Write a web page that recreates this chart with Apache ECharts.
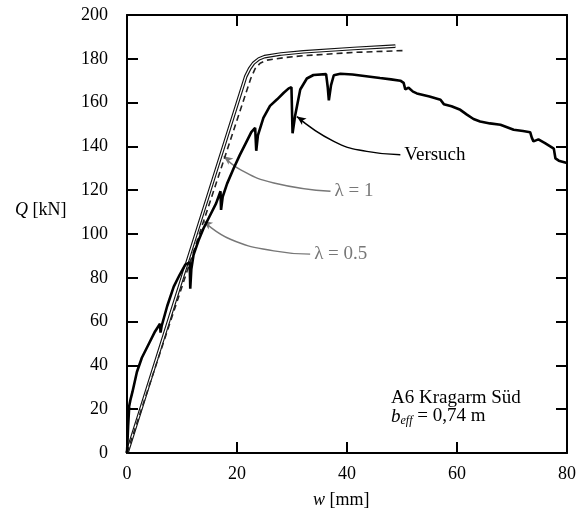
<!DOCTYPE html>
<html>
<head>
<meta charset="utf-8">
<script src="https://cdn.jsdelivr.net/npm/echarts@6/dist/echarts.min.js"></script>
<style>
  html, body { margin: 0; padding: 0; background: #fff; }
  #chart { width: 585px; height: 513px; }
</style>
</head>
<body>
<div id="chart"></div>
<script>
// Versuch (Messkurve)
const versuchW = [0, 0.2, 0.4, 0.2, 0.6, 1.0, 1.8, 2.7, 4.0, 5.1, 6.0, 6.1, 6.3, 7.3, 8.5, 9.6, 10.6, 11.4, 11.5, 11.7,
  12.1, 13.0, 13.9, 15.0, 16.2, 17.0, 17.1, 17.4, 18.2, 19.4, 20.5, 21.6, 22.6, 23.3, 23.5, 23.8, 24.8, 26.0, 27.3, 28.5,
  29.4, 29.9, 30.1, 30.6, 31.5, 32.7, 33.9, 36.2, 36.5, 36.7, 37.1, 37.6, 38.8, 41.0, 44.2, 46.0, 48.0, 49.7, 50.3, 50.6,
  51.2, 52.0, 52.7, 55.0, 57.0, 57.6, 59.0, 60.6, 61.8, 63.0, 64.2, 66.0, 67.9, 70.3, 72.0, 73.3, 73.6, 73.9, 74.8, 76.0,
  77.6, 77.9, 78.5, 80.0]
const versuchQ = [0, 12, 21, 19, 24, 28, 37, 43.5, 50, 55.5, 59, 55, 58, 67, 76, 81.5, 86, 87, 75, 84,
  90.5, 97, 102.5, 108, 114, 119.5, 111, 117, 123, 130, 136, 141.5, 146.5, 148.5, 138, 145, 153, 158.5, 161.5, 164.5,
  166.5, 167, 146, 154.5, 166, 171, 172.6, 173, 167, 161, 168, 172.5, 173.2, 172.8, 171.8, 171.2, 170.6, 170, 169, 166,
  166.8, 165, 164.2, 162.8, 161.3, 159.3, 158.3, 156.7, 154.5, 152.5, 151.4, 150.5, 149.9, 147.6, 147, 146.5, 144, 142.3, 143.2, 141.5,
  139, 134.5, 133.5, 132.4]

// Rechnung lambda = 1
const lambda1W = [0, 21.6, 22.3, 23.0, 24.0, 25.0, 28.0, 32.1, 41.2, 48.8]
const lambda1Q = [0, 172, 175.5, 178, 180, 181, 182.2, 183.2, 184.7, 185.8]

// Rechnung lambda = 0.5
const lambda05W = [0, 22.5, 23.3, 24.2, 25.5, 28.5, 32.1, 41.1, 50.6]
const lambda05Q = [0, 171, 175.5, 178, 179.4, 180.5, 181.4, 182.9, 183.8]

// Hinweislinien (Beschriftung)
const leadVersuchW = [30.9, 37.6, 43.6, 49.7]
const leadVersuchQ = [153.6, 142.3, 137.7, 136.2]
const leadL1W = [17.6, 20.6, 26.7, 37.0]
const leadL1Q = [135.5, 129.4, 123.3, 119.5]
const leadL05W = [13.9, 18.8, 26.7, 33.3]
const leadL05Q = [105.9, 97.6, 92.3, 90.8]

const xTicks = [0, 20, 40, 60, 80]
const yTicks = [0, 20, 40, 60, 80, 100, 120, 140, 160, 180, 200]

const zip = (a, b) => a.map((v, i) => [v, b[i]])

const serif = 'Liberation Serif'

function leader (w, q, text, color, rot) {
  const data = zip(w, q).map((p, i) => i === 0
    ? { value: p, symbol: 'arrow', symbolSize: [6, 9], symbolRotate: rot }
    : { value: p })
  return {
    type: 'line',
    data: data,
    smooth: true,
    symbol: 'none',
    showSymbol: true,
    itemStyle: { color: color },
    lineStyle: { color: color, width: 1.4 },
    endLabel: {
      show: true,
      formatter: text,
      distance: 4,
      fontFamily: serif,
      fontSize: 19,
      color: color
    },
    z: 1
  }
}

const chart = echarts.init(document.getElementById('chart'))
const axisCommon = {
  type: 'value',
  axisLine: { show: true, onZero: false, lineStyle: { color: '#000', width: 2 } },
  axisTick: { inside: true, length: 11, lineStyle: { color: '#000', width: 2 } },
  splitLine: { show: false }
}
const option = {
  animation: false,
  backgroundColor: '#fff',
  grid: { left: 127, right: 18, top: 15, bottom: 60 },
  xAxis: [
    Object.assign({}, axisCommon, {
      min: 0, max: 80, interval: 20,
      axisLabel: { margin: 12, fontFamily: serif, fontSize: 18, color: '#000',
        formatter: v => xTicks.includes(v) ? String(v) : '' }
    }),
    Object.assign({}, axisCommon, {
      position: 'top', min: 0, max: 80, interval: 20, axisLabel: { show: false }
    })
  ],
  yAxis: [
    Object.assign({}, axisCommon, {
      min: 0, max: 200, interval: 20,
      axisLabel: { margin: 19, fontFamily: serif, fontSize: 18, color: '#000',
        formatter: v => yTicks.includes(v) ? String(v) : '' }
    }),
    Object.assign({}, axisCommon, {
      position: 'right', min: 0, max: 200, interval: 20, axisLabel: { show: false }
    })
  ],
  graphic: [
    {
      type: 'text', left: 15, top: 201,
      style: {
        text: '{i|Q} [kN]',
        font: '18px "Liberation Serif"',
        fill: '#000',
        rich: { i: { fontStyle: 'italic', fontFamily: serif, fontSize: 18 } }
      }
    },
    {
      type: 'text', left: 313, top: 491,
      style: {
        text: '{i|w} [mm]',
        font: '18px "Liberation Serif"',
        fill: '#000',
        rich: { i: { fontStyle: 'italic', fontFamily: serif, fontSize: 18 } }
      }
    },
    {
      type: 'text', left: 391, top: 389,
      style: { text: 'A6 Kragarm Süd', font: '19px "Liberation Serif"', fill: '#000' }
    },
    {
      type: 'text', left: 391, top: 407,
      style: {
        text: '{b|b}{s|eff} = 0,74 m',
        font: '19px "Liberation Serif"',
        fill: '#000',
        rich: {
          b: { fontStyle: 'italic', fontFamily: serif, fontSize: 19 },
          s: { fontStyle: 'italic', fontFamily: serif, fontSize: 12, verticalAlign: 'bottom', padding: [8, 0, 0, 0] }
        }
      }
    }
  ],
  series: [
    {
      name: 'λ = 1',
      type: 'line',
      data: zip(lambda1W, lambda1Q),
      showSymbol: false,
      lineStyle: { color: '#111', width: 3.6 },
      z: 2
    },
    {
      name: 'λ = 1 (innen)',
      type: 'line',
      data: zip(lambda1W, lambda1Q),
      showSymbol: false,
      lineStyle: { color: '#fff', width: 1.3 },
      z: 3
    },
    {
      name: 'λ = 0.5',
      type: 'line',
      data: zip(lambda05W, lambda05Q),
      showSymbol: false,
      lineStyle: { color: '#222', width: 1.6, type: [6, 4] },
      z: 4
    },
    {
      name: 'Versuch',
      type: 'line',
      data: zip(versuchW, versuchQ),
      showSymbol: false,
      lineStyle: { color: '#000', width: 2.6 },
      z: 5
    },
    leader(leadVersuchW, leadVersuchQ, 'Versuch', '#000', 55),
    leader(leadL1W, leadL1Q, 'λ = 1', '#777', 53),
    leader(leadL05W, leadL05Q, 'λ = 0.5', '#777', 56)
  ]
}
chart.setOption(option)
</script>
</body>
</html>
